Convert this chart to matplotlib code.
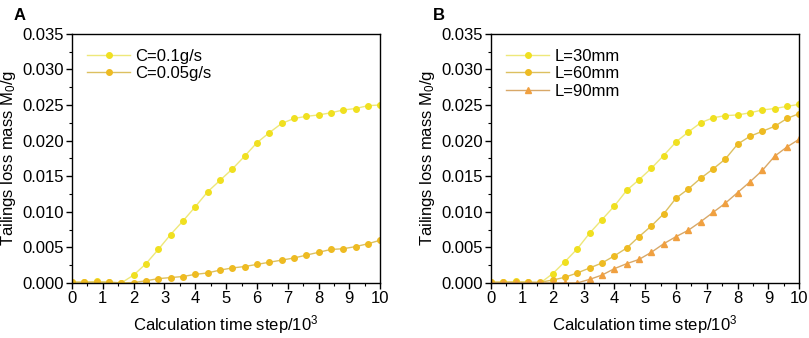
import numpy as np
import matplotlib
matplotlib.use("Agg")
import matplotlib.pyplot as plt
from matplotlib.ticker import MultipleLocator

plt.rcParams['font.family'] = ['Liberation Sans', 'DejaVu Sans']
plt.rcParams['mathtext.fontset'] = 'custom'
plt.rcParams['mathtext.rm'] = 'Liberation Sans'
plt.rcParams['mathtext.it'] = 'Liberation Sans'

# time steps (x10^3)
steps = [0, 0.4, 0.8, 1.2, 1.6, 2.0, 2.4, 2.8, 3.2, 3.6, 4.0, 4.4, 4.8,
         5.2, 5.6, 6.0, 6.4, 6.8, 7.2, 7.6, 8.0, 8.4, 8.8, 9.2, 9.6, 10.0]

# panel A
c_01 = [0.0001, 0.0001, 0.0002, 0.0001, 0.0, 0.0011, 0.0027, 0.0047, 0.0068,
        0.0087, 0.0107, 0.0128, 0.0144, 0.0160, 0.0178, 0.0197, 0.0211,
        0.0224, 0.0231, 0.0234, 0.0236, 0.0239, 0.0243, 0.0245, 0.0249, 0.0250]
c_005 = [0.0001, 0.0001, 0.0001, 0.0001, 0.0, 0.00005, 0.0003, 0.0006, 0.00075,
         0.0009, 0.0012, 0.0014, 0.0018, 0.0021, 0.0023, 0.0026, 0.0029,
         0.0032, 0.0035, 0.0039, 0.0043, 0.0047, 0.0048, 0.0051, 0.0055, 0.0060]

# panel B
l_30 = [0.0001, 0.0001, 0.0002, 0.0001, 0.0, 0.0013, 0.0030, 0.0048, 0.0070,
        0.0089, 0.0108, 0.0130, 0.0145, 0.0161, 0.0179, 0.0198, 0.0212,
        0.0225, 0.0232, 0.0235, 0.0236, 0.0239, 0.0243, 0.0245, 0.0248, 0.0251]
l_60 = [0.0001, 0.0001, 0.0001, 0.0001, 0.0001, 0.0004, 0.0008, 0.0014, 0.0021,
        0.0028, 0.0038, 0.0049, 0.0065, 0.0080, 0.0097, 0.0119, 0.0132,
        0.0147, 0.0160, 0.0174, 0.0195, 0.0206, 0.0213, 0.0220, 0.0231, 0.0238]
l_90 = [0.0, 0.0, 0.0, 0.0, 0.0, 0.0, 0.0, 0.0, 0.0005,
        0.0011, 0.0020, 0.0027, 0.0033, 0.0043, 0.0055, 0.0065, 0.0074,
        0.0086, 0.0099, 0.0112, 0.0127, 0.0142, 0.0158, 0.0178, 0.0191, 0.0202]

fig = plt.figure(figsize=(8.09, 3.38), dpi=100)
ax1 = fig.add_axes([0.089, 0.163, 0.381, 0.737])
ax2 = fig.add_axes([0.607, 0.163, 0.381, 0.737])

FS = 12


def style_axis(ax):
    ax.set_xlim(0, 10)
    ax.set_ylim(0, 0.035)
    ax.xaxis.set_major_locator(MultipleLocator(1))
    ax.xaxis.set_minor_locator(MultipleLocator(0.5))
    ax.yaxis.set_major_locator(MultipleLocator(0.005))
    ax.yaxis.set_minor_locator(MultipleLocator(0.0025))
    ax.yaxis.set_major_formatter(matplotlib.ticker.FormatStrFormatter('%.3f'))
    ax.tick_params(which='major', direction='out', length=4, width=1,
                   labelsize=FS, pad=2)
    ax.tick_params(which='minor', direction='out', length=2, width=0.8)
    for s in ax.spines.values():
        s.set_linewidth(1)
    ax.set_xlabel(r"Calculation time step/10$^3$", fontsize=FS, labelpad=5)
    ax.set_ylabel(r"Tailings loss mass M$_0$/g", fontsize=FS, labelpad=3)
    ax.legend(loc='upper left', frameon=False, fontsize=FS, handlelength=2.6,
              labelspacing=0.15, borderaxespad=0.5, handletextpad=0.3)


ax1.plot(steps, c_01, color='#eee87a', lw=1, marker='o', ms=4,
         mfc='#f0e020', mec='#f0e020', label='C=0.1g/s')
ax1.plot(steps, c_005, color='#dcc060', lw=1, marker='o', ms=4,
         mfc='#eebb22', mec='#eebb22', label='C=0.05g/s')
style_axis(ax1)

ax2.plot(steps, l_30, color='#eee87a', lw=1, marker='o', ms=4,
         mfc='#f0e020', mec='#f0e020', label='L=30mm')
ax2.plot(steps, l_60, color='#dcc060', lw=1, marker='o', ms=4,
         mfc='#eebb22', mec='#eebb22', label='L=60mm')
ax2.plot(steps, l_90, color='#d8a868', lw=1, marker='^', ms=4.5,
         mfc='#f0a040', mec='#f0a040', label='L=90mm')
style_axis(ax2)

fig.text(0.017, 0.955, 'A', fontsize=12, fontweight='bold', ha='left', va='center')
fig.text(0.535, 0.955, 'B', fontsize=12, fontweight='bold', ha='left', va='center')

fig.savefig('out.png', dpi=100)
